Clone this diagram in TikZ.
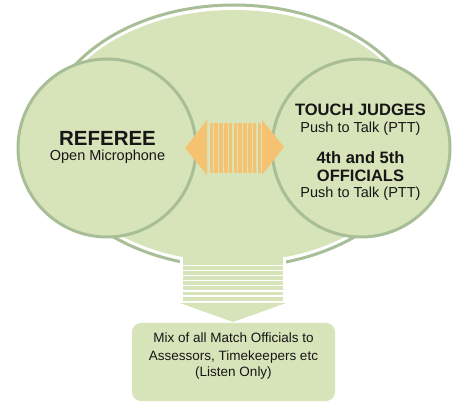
\documentclass[tikz,border=0pt]{standalone}
\usepackage{fontspec}
\setmainfont{Liberation Sans}
\definecolor{fillg}{HTML}{D7E4BA}
\definecolor{lineg}{HTML}{A8BE96}
\definecolor{orng}{HTML}{F5C272}
\definecolor{txt}{HTML}{161616}
\begin{document}
\begin{tikzpicture}[x=1pt,y=-1pt,
  bubble/.style={circle, draw=lineg, line width=3pt, fill=fillg, minimum size=178pt, inner sep=0pt},
  bigtxt/.style={anchor=base, text=txt, inner sep=0pt, font=\bfseries\fontsize{20.5}{24}\selectfont},
  headtxt/.style={anchor=base, text=txt, inner sep=0pt, font=\bfseries\fontsize{16.5}{20}\selectfont},
  subtxt/.style={anchor=base, text=txt, inner sep=0pt, font=\fontsize{14.5}{17}\selectfont},
  boxtxt/.style={anchor=base, text=txt, inner sep=0pt, font=\fontsize{13.5}{16}\selectfont},
  outbox/.style={rounded corners=9pt, fill=fillg, minimum width=203pt, minimum height=78pt, inner sep=0pt}]
\useasboundingbox (0,0) rectangle (469,406);
\fill[white] (0,0) rectangle (469,406);
% big ellipse
\draw[lineg, line width=3pt, fill=white] (234,136) ellipse [x radius=189pt, y radius=131pt];
\fill[fillg] (234,136) ellipse [x radius=185pt, y radius=126pt];
% circles
\node[bubble] (refc) at (107,148) {};
\node[bubble] (offc) at (361,148) {};
% orange double arrow
\fill[orng] (185,148) -- (207,120) -- (207,175) -- cycle;
\fill[orng] (262,120) -- (284,147) -- (262,175) -- cycle;
\foreach \i in {0,...,10} \fill[orng] ({209.5+\i*4.8},123) rectangle ++(3.6,50);
% down arrow
\fill[white] (180,257) rectangle (286,303);
\fill[fillg] (183,250) rectangle (283,261);
\foreach \i in {0,...,7} \fill[fillg] (183,{261+\i*5.1}) rectangle ++(100,3.9);
\fill[fillg] (180,303) -- (286,303) -- (233,322) -- cycle;
% bottom box
\node[outbox] (box) at (233.5,362) {};
% texts
\node[bigtxt] (reft) at (107.5,146) {REFEREE};
\node[subtxt] (refs) at (107.5,161) {Open Microphone};
\node[headtxt] (tj) at (360.5,116) {TOUCH JUDGES};
\node[subtxt] (tjs) at (360.5,132.5) {Push to Talk (PTT)};
\node[headtxt] (o1) at (360.5,164) {4th and 5th};
\node[headtxt] (o2) at (360.5,181.5) {OFFICIALS};
\node[subtxt] (os) at (360.5,198) {Push to Talk (PTT)};
\node[boxtxt] (b1) at (233.5,343) {Mix of all Match Officials to};
\node[boxtxt] (b2) at (233.5,360.5) {Assessors, Timekeepers etc};
\node[boxtxt] (b3) at (233.5,377) {(Listen Only)};
\end{tikzpicture}
\end{document}
